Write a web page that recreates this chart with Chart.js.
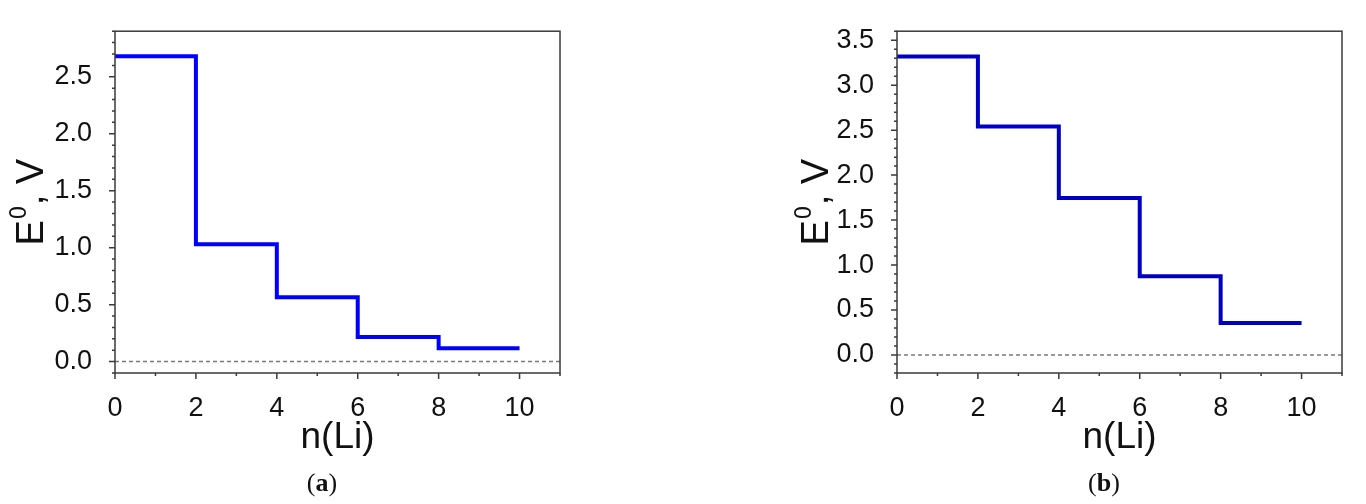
<!DOCTYPE html>
<html>
<head>
<meta charset="utf-8">
<script src="https://cdn.jsdelivr.net/npm/chart.js@4/dist/chart.umd.min.js"></script>
<style>
  body { margin: 0; background: #fff; width: 1366px; height: 504px; position: relative; overflow: hidden; }
  canvas { position: absolute; top: 0; }
  #chartA { left: 0; }
  #chartB { left: 780px; }
  .panel { position: absolute; top: 468px; font: 26px "Liberation Serif", "Times New Roman", serif; color: #111; transform: translateX(-50%); }
</style>
</head>
<body>
<canvas id="chartA" width="580" height="504"></canvas>
<canvas id="chartB" width="582" height="504"></canvas>
<div class="panel" style="left:322px">(<b>a</b>)</div>
<div class="panel" style="left:1104px">(<b>b</b>)</div>
<script>
// Dados: número de Li e potencial padrão de cada etapa
const nLi = [0, 2, 4, 6, 8, 10];
const potentialA = [2.68, 1.03, 0.565, 0.215, 0.117, 0.117];
const potentialB = [3.32, 2.54, 1.745, 0.875, 0.357, 0.357];

// Rótulos dos eixos
const xLabels = [0, 2, 4, 6, 8, 10];
const yLabelsA = [0.0, 0.5, 1.0, 1.5, 2.0, 2.5];
const yLabelsB = [0.0, 0.5, 1.0, 1.5, 2.0, 2.5, 3.0, 3.5];

const sans = '"Liberation Sans", Arial, sans-serif';

const isLabelled = (list, v) => list.some(l => Math.abs(l - v) < 1e-6);

// Moldura e marcas dos eixos (maiores nos rótulos, menores no resto)
const frameTicks = {
    id: 'frameTicks',
    afterDraw(chart, args, opts) {
        const { ctx, chartArea: a } = chart;
        const x = chart.scales.x, y = chart.scales.y;
        ctx.save();
        ctx.strokeStyle = '#3a3a3a';
        ctx.lineWidth = 1.5;
        ctx.beginPath();
        x.ticks.forEach(t => {
            const px = x.getPixelForValue(t.value);
            const len = isLabelled(xLabels, t.value) ? 6 : 3;
            ctx.moveTo(px, a.bottom);
            ctx.lineTo(px, a.bottom + len);
        });
        y.ticks.forEach(t => {
            const py = y.getPixelForValue(t.value);
            const len = isLabelled(opts.yLabels, t.value) ? 6 : 3;
            ctx.moveTo(a.left - len, py);
            ctx.lineTo(a.left, py);
        });
        ctx.stroke();
        ctx.strokeRect(a.left, a.top, a.right - a.left, a.bottom - a.top);
        ctx.restore();
    }
};

// Título do eixo y com expoente: E^0, V
const yTitle = {
    id: 'yTitle',
    afterDraw(chart, args, opts) {
        const { ctx, chartArea: a } = chart;
        const big = '38px ' + sans, small = '23px ' + sans;
        ctx.save();
        ctx.translate(opts.x, (a.top + a.bottom) / 2);
        ctx.rotate(-Math.PI / 2);
        ctx.fillStyle = '#111';
        ctx.textBaseline = 'alphabetic';
        ctx.font = big;
        const wE = ctx.measureText('E').width;
        const wRest = ctx.measureText(', V').width;
        ctx.font = small;
        const w0 = ctx.measureText('0').width;
        let cx = -(wE + w0 + 2 + wRest) / 2;
        const base = 13.5;
        ctx.font = big;
        ctx.fillText('E', cx, base);
        cx += wE + 1;
        ctx.font = small;
        ctx.fillText('0', cx, base - 17);
        cx += w0 + 1;
        ctx.font = big;
        ctx.fillText(', V', cx, base);
        ctx.restore();
    }
};

function makeChart(id, values, color, yMin, yMax, yLabels, yAxisWidth, titleX) {
    const steps = nLi.map((n, i) => ({ x: n, y: values[i] }));
    return new Chart(document.getElementById(id), {
        type: 'line',
        data: {
            datasets: [{
                data: steps,
                stepped: 'before',
                borderColor: color,
                borderWidth: 4,
                pointRadius: 0,
                fill: false
            }, {
                data: [{ x: 0, y: 0 }, { x: 11, y: 0 }],
                borderColor: '#7a7a7a',
                borderWidth: 1.5,
                borderDash: [4, 3],
                pointRadius: 0,
                fill: false
            }]
        },
        options: {
            responsive: false,
            animation: false,
            events: [],
            layout: { padding: { top: 15, right: 20, left: 0, bottom: 0 } },
            plugins: {
                legend: { display: false },
                tooltip: { enabled: false },
                frameTicks: { yLabels: yLabels },
                yTitle: { x: titleX }
            },
            scales: {
                x: {
                    type: 'linear',
                    min: 0,
                    max: 11,
                    grid: { display: false },
                    border: { display: false },
                    ticks: {
                        stepSize: 1,
                        autoSkip: false,
                        maxRotation: 0,
                        padding: 11,
                        color: '#111',
                        font: { family: sans, size: 27 },
                        callback: v => isLabelled(xLabels, v) ? String(v) : ''
                    },
                    title: {
                        display: true,
                        text: 'n(Li)',
                        color: '#111',
                        font: { family: sans, size: 37, lineHeight: 1 },
                        padding: { top: 0, bottom: 48 }
                    },
                    afterFit: s => { s.height = 504 - 373; }
                },
                y: {
                    min: yMin,
                    max: yMax,
                    grid: { display: false },
                    border: { display: false },
                    ticks: {
                        stepSize: 0.1,
                        autoSkip: false,
                        maxTicksLimit: 100,
                        padding: 15,
                        color: '#111',
                        font: { family: sans, size: 27 },
                        callback: v => isLabelled(yLabels, v) ? v.toFixed(1) : ''
                    },
                    afterFit: s => { s.width = yAxisWidth; }
                }
            }
        },
        plugins: [frameTicks, yTitle]
    });
}

const chartA = makeChart('chartA', potentialA, '#0000ff', -0.1, 2.9, yLabelsA, 115, 29);
const chartB = makeChart('chartB', potentialB, '#0000c4', -0.2, 3.6, yLabelsB, 117, 34);
</script>
</body>
</html>
